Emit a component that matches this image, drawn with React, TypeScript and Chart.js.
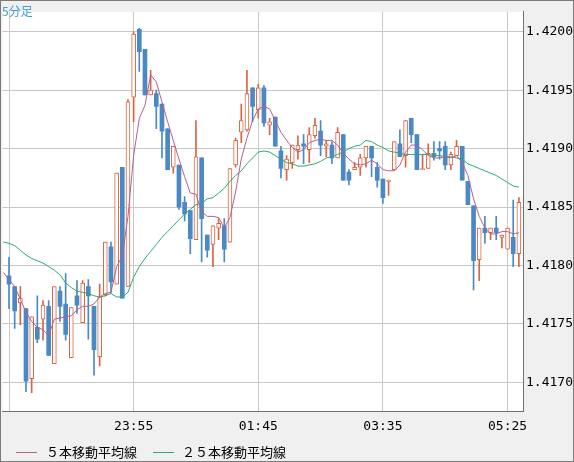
import React, { useEffect, useRef } from 'react';
import { Chart, registerables } from 'chart.js';

Chart.register(...registerables);

// 5-minute candles, index 0 = 22:05 ... index 90 = 05:35
const openP = [
  1.41791, 1.41782, 1.41768, 1.41763, 1.41703, 1.41747, 1.41754, 1.41765, 1.41716, 1.41778,
  1.41767, 1.41721, 1.41774, 1.41751, 1.41782, 1.41765, 1.41722, 1.41775, 1.41816, 1.41784,
  1.41884, 1.41782, 1.41944, 1.42002, 1.41985, 1.41946, 1.41947, 1.41938, 1.41917, 1.41884,
  1.41886, 1.41854, 1.41847, 1.41822, 1.41892, 1.41826, 1.41818, 1.41832, 1.41834, 1.41820,
  1.41886, 1.41914, 1.41916, 1.41952, 1.41933, 1.41952, 1.41920, 1.41927, 1.41898, 1.41882,
  1.41888, 1.41899, 1.41904, 1.41899, 1.41911, 1.41915, 1.41902, 1.41903, 1.41892, 1.41912,
  1.41880, 1.41882, 1.41884, 1.41892, 1.41902, 1.41884, 1.41874, 1.41872, 1.41882, 1.41904,
  1.41894, 1.41926, 1.41912, 1.41882, 1.41883, 1.41896, 1.41900, 1.41902, 1.41886, 1.41894,
  1.41902, 1.41872, 1.41851, 1.41805, 1.41832, 1.41828, 1.41832, 1.41824, 1.41814, 1.41824,
  1.41810,
];
const highP = [
  1.41807, 1.41782, 1.41782, 1.41763, 1.41756, 1.41774, 1.41770, 1.41770, 1.41782, 1.41782,
  1.41793, 1.41764, 1.41787, 1.41787, 1.41788, 1.41765, 1.41784, 1.41820, 1.41820, 1.41879,
  1.41884, 1.41942, 1.42000, 1.42003, 1.41985, 1.41967, 1.41950, 1.41938, 1.41917, 1.41902,
  1.41886, 1.41859, 1.41847, 1.41924, 1.41892, 1.41826, 1.41834, 1.41840, 1.41840, 1.41883,
  1.41909, 1.41938, 1.41967, 1.41952, 1.41955, 1.41954, 1.41926, 1.41927, 1.41902, 1.41894,
  1.41903, 1.41911, 1.41912, 1.41918, 1.41926, 1.41924, 1.41907, 1.41906, 1.41918, 1.41912,
  1.41882, 1.41888, 1.41895, 1.41902, 1.41902, 1.41888, 1.41874, 1.41873, 1.41906, 1.41916,
  1.41924, 1.41926, 1.41912, 1.41895, 1.41904, 1.41906, 1.41906, 1.41906, 1.41897, 1.41907,
  1.41902, 1.41872, 1.41851, 1.41832, 1.41842, 1.41832, 1.41842, 1.41826, 1.41832, 1.41856,
  1.41858,
];
const lowP = [
  1.41763, 1.41746, 1.41749, 1.41692, 1.41691, 1.41734, 1.41736, 1.41723, 1.41716, 1.41752,
  1.41736, 1.41721, 1.41759, 1.41751, 1.41737, 1.41706, 1.41714, 1.41774, 1.41777, 1.41784,
  1.41772, 1.41782, 1.41923, 1.41966, 1.41946, 1.41946, 1.41917, 1.41892, 1.41882, 1.41879,
  1.41848, 1.41838, 1.41810, 1.41822, 1.41803, 1.41807, 1.41799, 1.41822, 1.41803, 1.41820,
  1.41884, 1.41905, 1.41915, 1.41923, 1.41926, 1.41919, 1.41912, 1.41902, 1.41875, 1.41873,
  1.41883, 1.41891, 1.41887, 1.41888, 1.41909, 1.41894, 1.41893, 1.41887, 1.41892, 1.41873,
  1.41869, 1.41882, 1.41877, 1.41884, 1.41876, 1.41867, 1.41853, 1.41860, 1.41882, 1.41893,
  1.41884, 1.41905, 1.41882, 1.41882, 1.41883, 1.41890, 1.41891, 1.41882, 1.41882, 1.41894,
  1.41873, 1.41852, 1.41779, 1.41787, 1.41819, 1.41822, 1.41822, 1.41815, 1.41814, 1.41799,
  1.41799,
];
const closeP = [
  1.41784, 1.41761, 1.41772, 1.41701, 1.41756, 1.41737, 1.41766, 1.41723, 1.41782, 1.41765,
  1.41741, 1.41764, 1.41766, 1.41785, 1.41774, 1.41728, 1.41773, 1.41820, 1.41786, 1.41879,
  1.41772, 1.41940, 1.41998, 1.41983, 1.41946, 1.41950, 1.41936, 1.41915, 1.41882, 1.41902,
  1.41850, 1.41844, 1.41823, 1.41893, 1.41840, 1.41813, 1.41834, 1.41836, 1.41814, 1.41883,
  1.41907, 1.41924, 1.41947, 1.41936, 1.41952, 1.41922, 1.41923, 1.41902, 1.41883, 1.41891,
  1.41903, 1.41903, 1.41902, 1.41912, 1.41920, 1.41903, 1.41904, 1.41892, 1.41914, 1.41873,
  1.41873, 1.41884, 1.41892, 1.41902, 1.41892, 1.41873, 1.41858, 1.41873, 1.41906, 1.41893,
  1.41924, 1.41912, 1.41882, 1.41883, 1.41896, 1.41893, 1.41898, 1.41886, 1.41895, 1.41902,
  1.41873, 1.41852, 1.41804, 1.41832, 1.41828, 1.41832, 1.41828, 1.41826, 1.41832, 1.41810,
  1.41854,
];

// moving averages, first value belongs to index -1 (22:00)
const maFirstIndex = -1;
const ma5 = [
  1.41794, 1.41788, 1.41782, 1.41771, 1.41760, 1.41752, 1.41747, 1.41745, 1.41740, 1.41754,
  1.41755, 1.41756, 1.41757, 1.41762, 1.41765, 1.41765, 1.41767, 1.41773, 1.41776, 1.41777,
  1.41799, 1.41808, 1.41842, 1.41894, 1.41926, 1.41937, 1.41963, 1.41957, 1.41940, 1.41923,
  1.41907, 1.41891, 1.41876, 1.41862, 1.41861, 1.41846, 1.41842, 1.41842, 1.41841, 1.41832,
  1.41841, 1.41863, 1.41891, 1.41909, 1.41924, 1.41934, 1.41936, 1.41934, 1.41924, 1.41914,
  1.41907, 1.41901, 1.41897, 1.41899, 1.41905, 1.41907, 1.41908, 1.41907, 1.41907, 1.41903,
  1.41896, 1.41891, 1.41887, 1.41886, 1.41887, 1.41890, 1.41887, 1.41882, 1.41881, 1.41881,
  1.41886, 1.41897, 1.41903, 1.41903, 1.41899, 1.41894, 1.41892, 1.41892, 1.41893, 1.41892,
  1.41894, 1.41888, 1.41877, 1.41857, 1.41842, 1.41832, 1.41827, 1.41827, 1.41829, 1.41829,
  1.41827, 1.41828,
];
const ma25 = [
  1.41820, 1.41819, 1.41817, 1.41813, 1.41809, 1.41806, 1.41804, 1.41802, 1.41799, 1.41796,
  1.41792, 1.41785, 1.41781, 1.41778, 1.41777, 1.41776, 1.41774, 1.41773, 1.41774, 1.41776,
  1.41773, 1.41773, 1.41777, 1.41790, 1.41799, 1.41806, 1.41812, 1.41818, 1.41824, 1.41829,
  1.41834, 1.41839, 1.41844, 1.41848, 1.41852, 1.41853, 1.41857, 1.41858, 1.41862, 1.41866,
  1.41872, 1.41877, 1.41881, 1.41887, 1.41892, 1.41897, 1.41898, 1.41897, 1.41894, 1.41891,
  1.41888, 1.41887, 1.41885, 1.41885, 1.41886, 1.41887, 1.41889, 1.41892, 1.41893, 1.41895,
  1.41897, 1.41900, 1.41902, 1.41903, 1.41907, 1.41906, 1.41903, 1.41901, 1.41898, 1.41897,
  1.41896, 1.41895, 1.41895, 1.41895, 1.41895, 1.41895, 1.41894, 1.41894, 1.41893, 1.41893,
  1.41892, 1.41891, 1.41887, 1.41885, 1.41883, 1.41881, 1.41879, 1.41877, 1.41874, 1.41871,
  1.41868, 1.41867,
];

const xTickIndex = [0, 22, 44, 66, 88];
const xTickLabels = ['', '23:55', '01:45', '03:35', '05:25'];
const yTicks = [1.417, 1.4175, 1.418, 1.4185, 1.419, 1.4195, 1.42];
const legendLabels = ['５本移動平均線', '２５本移動平均線'];
const periodLabel = '5分足';

const BLUE = '#4a89c4';
const RED = '#dc6441';
const MA5_COLOR = '#b55f8f';
const MA25_COLOR = '#2bab6c';
const GRID = '#c8c8c8';
const FRAME = '#707070';
const TICK_FONT = { family: '"DejaVu Sans Mono", monospace', size: 13 };

export default function App() {
  const ref = useRef<HTMLCanvasElement>(null);

  useEffect(() => {
    const up = closeP.map((c, i) => c >= openP[i]);
    const chart = new Chart(ref.current as HTMLCanvasElement, {
      type: 'bar',
      data: {
        datasets: [
          {
            type: 'line',
            label: legendLabels[0],
            data: ma5.map((v, i) => ({ x: i + maFirstIndex, y: v })),
            borderColor: MA5_COLOR,
            borderWidth: 1,
            pointRadius: 0,
            tension: 0,
            order: 0,
          } as any,
          {
            type: 'line',
            label: legendLabels[1],
            data: ma25.map((v, i) => ({ x: i + maFirstIndex, y: v })),
            borderColor: MA25_COLOR,
            borderWidth: 1,
            pointRadius: 0,
            tension: 0,
            order: 0,
          } as any,
          {
            type: 'bar',
            label: 'body',
            data: openP.map((o, i) => ({ x: i, y: [o, closeP[i]] })),
            backgroundColor: up.map((u) => (u ? '#ffffff' : BLUE)),
            borderColor: up.map((u) => (u ? RED : BLUE)),
            borderWidth: up.map((u) => (u ? 1 : 0)),
            borderSkipped: false,
            barThickness: 4,
            grouped: false,
            order: 1,
          } as any,
          {
            type: 'bar',
            label: 'wick',
            data: lowP.map((l, i) => ({ x: i, y: [l, highP[i]] })),
            backgroundColor: up.map((u) => (u ? RED : BLUE)),
            borderWidth: 0,
            barThickness: 1,
            grouped: false,
            order: 2,
          } as any,
        ],
      },
      options: {
        animation: false,
        responsive: false,
        maintainAspectRatio: false,
        layout: { padding: 0 },
        plugins: { legend: { display: false }, tooltip: { enabled: false } },
        scales: {
          x: {
            type: 'linear',
            min: -1.144,
            max: 90.728,
            offset: false,
            grid: { color: GRID, drawTicks: false, offset: false },
            border: { display: true, color: FRAME },
            afterBuildTicks: (s: any) => {
              s.ticks = xTickIndex.map((v) => ({ value: v }));
            },
            afterFit: (s: any) => {
              s.height = 50;
            },
            ticks: {
              callback: (_v: any, i: number) => xTickLabels[i],
              autoSkip: false,
              maxRotation: 0,
              padding: 8,
              color: '#000',
              font: TICK_FONT,
            },
          },
          y: {
            type: 'linear',
            position: 'right',
            min: 1.41675417,
            max: 1.42017083,
            grid: { color: GRID, drawTicks: false },
            border: { display: true, color: FRAME },
            afterBuildTicks: (s: any) => {
              s.ticks = yTicks.map((v) => ({ value: v }));
            },
            afterFit: (s: any) => {
              s.width = 50;
            },
            ticks: {
              callback: (v: any) => Number(v).toFixed(4),
              padding: 3,
              color: '#000',
              font: TICK_FONT,
            },
          },
        },
      } as any,
      plugins: [
        {
          id: 'plotBg',
          beforeDraw: (c: any) => {
            const { ctx, chartArea } = c;
            ctx.save();
            ctx.fillStyle = '#ffffff';
            ctx.fillRect(chartArea.left, chartArea.top, chartArea.right - chartArea.left, chartArea.bottom - chartArea.top);
            ctx.restore();
          },
        },
      ],
    });
    return () => chart.destroy();
  }, []);

  const cjk = '"Noto Sans CJK JP", "Noto Sans", sans-serif';
  return (
    <div
      style={{
        position: 'absolute',
        left: 0,
        top: 0,
        width: 574,
        height: 462,
        boxSizing: 'border-box',
        border: '1px solid #7a7a7a',
        background: '#f0f0f0',
        overflow: 'hidden',
      }}
    >
      <canvas ref={ref} width={572} height={460} style={{ display: 'block' }} />
      <div
        style={{
          position: 'absolute',
          left: 1,
          top: 3,
          color: '#3f9fdb',
          fontFamily: cjk,
          fontSize: 12,
          lineHeight: '14px',
          whiteSpace: 'nowrap',
        }}
      >
        {periodLabel}
      </div>
      <div style={{ position: 'absolute', left: 15, top: 451, width: 21, height: 1, background: MA5_COLOR }} />
      <div
        style={{
          position: 'absolute',
          left: 45,
          top: 443,
          fontFamily: cjk,
          fontSize: 13,
          lineHeight: '16px',
          color: '#000',
          whiteSpace: 'nowrap',
        }}
      >
        {legendLabels[0]}
      </div>
      <div style={{ position: 'absolute', left: 152, top: 451, width: 21, height: 1, background: MA25_COLOR }} />
      <div
        style={{
          position: 'absolute',
          left: 181,
          top: 443,
          fontFamily: cjk,
          fontSize: 13,
          lineHeight: '16px',
          color: '#000',
          whiteSpace: 'nowrap',
        }}
      >
        {legendLabels[1]}
      </div>
    </div>
  );
}
